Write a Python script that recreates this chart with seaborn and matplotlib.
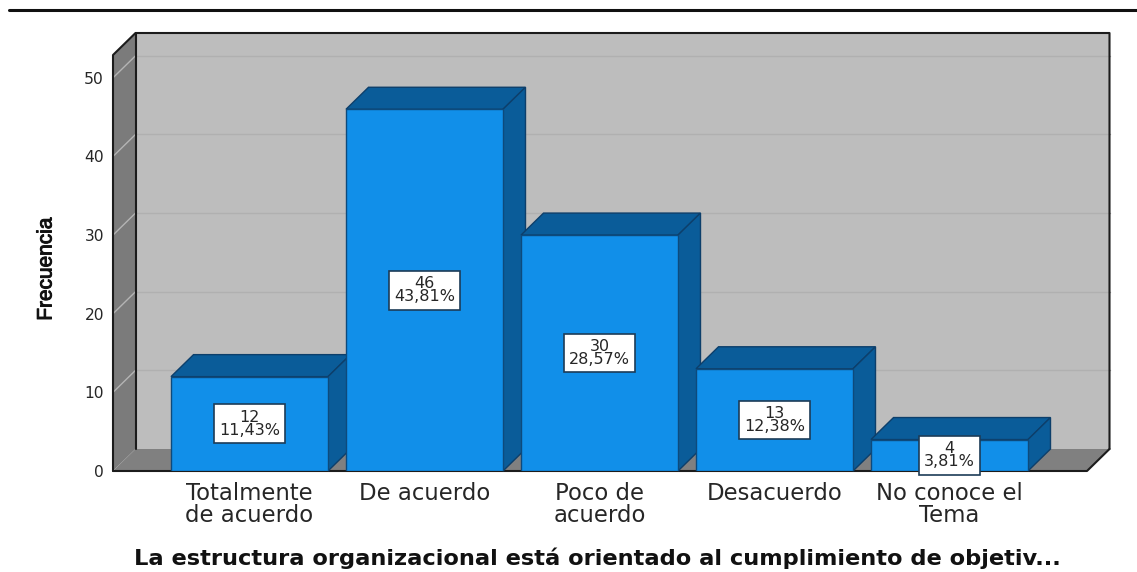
import matplotlib
matplotlib.use("Agg")
import matplotlib.pyplot as plt
import matplotlib.patheffects as pe
import seaborn as sns
import pandas as pd
from matplotlib.lines import Line2D

categories = ["Totalmente\nde acuerdo", "De acuerdo", "Poco de\nacuerdo", "Desacuerdo", "No conoce el\nTema"]
counts = [12, 46, 30, 13, 4]
percents = ["11,43%", "43,81%", "28,57%", "12,38%", "3,81%"]
y_ticks = [0, 10, 20, 30, 40, 50]
x_title = "La estructura organizacional está orientado al cumplimiento de objetiv..."
y_title = "Frecuencia"

W, H = 1137, 572
L, R, B, T = 113, 1087, 471, 55          # front plane of the 3-D box, px
PX_X = 175.0                              # px per category
PX_Y = (B - T) / 52.9                     # px per unit
DX, DY = 22.5 / PX_X, 22.0 / PX_Y         # depth offset in data units

sns.set_theme(style="white")
plt.rcParams["font.family"] = ["DejaVu Sans"]
TXT = "#262626"

fig = plt.figure(figsize=(W / 100, H / 100), dpi=100)
ax = fig.add_axes([L / W, (H - B) / H, (R - L) / W, (B - T) / H])

df = pd.DataFrame({"cat": categories, "n": counts})
sns.barplot(data=df, x="cat", y="n", ax=ax, color="#118fe9", saturation=1,
            width=0.897, edgecolor="#0d4a7c", linewidth=1.0, zorder=3)

x0 = (L - 249.5) / PX_X
x1 = (R - 249.5) / PX_X
ymax = 52.9
ax.set_xlim(x0, x1)
ax.set_ylim(0, ymax)

kw = dict(clip_on=False)
# back wall, left wall, floor
ax.fill([x0 + DX, x1 + DX, x1 + DX, x0 + DX], [DY, DY, ymax + DY, ymax + DY],
        fc="#bdbdbd", ec="none", zorder=0, **kw)
ax.fill([x0, x0 + DX, x0 + DX, x0], [0, DY, ymax + DY, ymax],
        fc="#7b7b7b", ec="none", zorder=0, **kw)
ax.fill([x0, x1, x1 + DX, x0 + DX], [0, 0, DY, DY],
        fc="#808080", ec="none", zorder=0, **kw)
# gridlines
for v in y_ticks[1:]:
    ax.plot([x0 + DX, x1 + DX], [v + DY, v + DY], color="#b0b0b0", lw=1, zorder=0.5, **kw)
    ax.plot([x0, x0 + DX], [v, v + DY], color="#b4b4b4", lw=1, zorder=0.5, **kw)
# box outlines
edge = "#1c1c1c"
ax.plot([x0, x0, x0 + DX, x1 + DX, x1 + DX], [0, ymax, ymax + DY, ymax + DY, DY],
        color=edge, lw=1.5, zorder=1, **kw)
ax.plot([x0 + DX, x0 + DX], [DY, ymax + DY], color=edge, lw=1.5, zorder=1, **kw)
ax.plot([x0, x1, x1 + DX], [0, 0, DY], color=edge, lw=1.5, zorder=1, **kw)

# 3-D bar faces and labels
for patch, n, pct in zip(ax.patches, counts, percents):
    a = patch.get_x()
    b = a + patch.get_width()
    ax.fill([a, b, b + DX, a + DX], [n, n, n + DY, n + DY],
            fc="#0a5c99", ec="#0d3f6b", lw=1, zorder=2, **kw)
    ax.fill([b, b + DX, b + DX, b], [0, DY, n + DY, n],
            fc="#0a5c99", ec="#0d3f6b", lw=1, zorder=2, **kw)
    ax.text((a + b) / 2, n / 2, f"{n}\n{pct}", ha="center", va="center",
            fontsize=11.5, color=TXT, linespacing=0.85, zorder=6,
            bbox=dict(boxstyle="square,pad=0.33", fc="white", ec="#1d3c57", lw=1.2))

ax.set_yticks(y_ticks)
ax.tick_params(axis="both", length=0)
ax.tick_params(axis="y", labelsize=11.2, pad=6.5, labelcolor=TXT)
ax.tick_params(axis="x", labelsize=16.4, pad=8, labelcolor=TXT)
for t in ax.get_xticklabels():
    t.set_linespacing(0.92)

ax.set_xlabel(x_title, fontsize=16.2, fontweight="bold", color="#111111")
ax.xaxis.set_label_coords((597 - L) / (R - L), (B - 558) / (B - T))
ax.xaxis.label.set_va("center")
ax.set_ylabel(y_title, fontsize=15, family="Liberation Sans", color="#111111",
              path_effects=[pe.withStroke(linewidth=0.7, foreground="#111111")])
ax.yaxis.set_label_coords((46 - L) / (R - L), (B - 269) / (B - T))
ax.yaxis.label.set_va("center")

for s in ax.spines.values():
    s.set_visible(False)
ax.patch.set_alpha(0)

fig.add_artist(Line2D([9 / W, 1], [(H - 10) / H] * 2, color="#111111", lw=2.2))
fig.savefig("out.png", dpi=100)
